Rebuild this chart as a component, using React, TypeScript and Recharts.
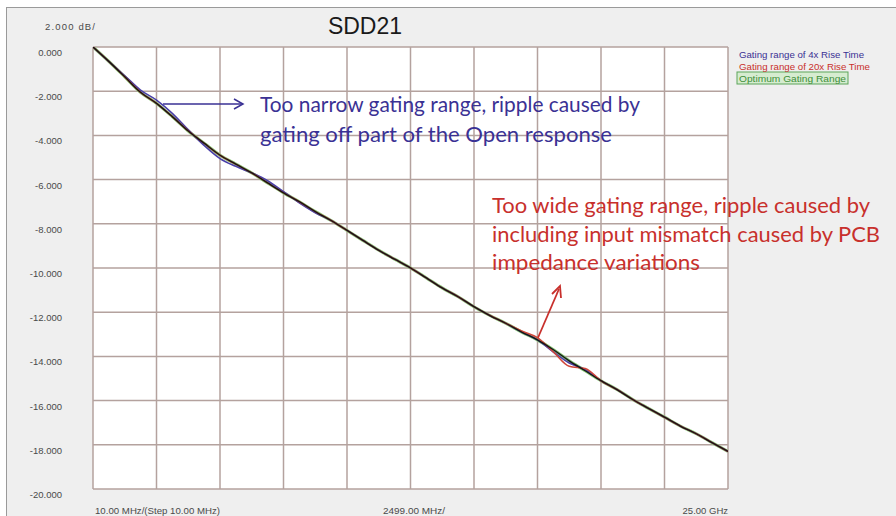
import React from 'react';
import { LineChart, Line, XAxis, YAxis, CartesianGrid, Customized } from 'recharts';

// Frequency (GHz) sample points
const freqGHz = [0.01, 0.63, 1.26, 1.88, 2.51, 3.13, 3.76, 4.38, 5.01, 5.63, 6.26, 6.88, 7.51, 8.13, 8.76, 9.38, 10.01, 10.63, 11.26, 11.88, 12.51, 13.13, 13.75, 14.38, 15.0, 15.63, 16.25, 16.88, 17.5, 18.13, 18.75, 19.38, 20.0, 20.63, 21.25, 21.87, 22.5, 23.12, 23.75, 24.37, 25.0];

// SDD21 (dB)
const optimumRange = [0.0, -0.65, -1.35, -2.05, -2.55, -3.15, -3.8, -4.35, -4.9, -5.3, -5.7, -6.15, -6.6, -7.0, -7.45, -7.85, -8.3, -8.75, -9.2, -9.6, -10.0, -10.45, -10.9, -11.3, -11.75, -12.15, -12.5, -12.9, -13.25, -13.7, -14.2, -14.65, -15.1, -15.5, -15.95, -16.35, -16.75, -17.15, -17.5, -17.9, -18.3];
const range4xRise = [0.0, -0.65, -1.3, -1.95, -2.4, -3.0, -3.75, -4.45, -5.05, -5.4, -5.7, -6.05, -6.55, -7.05, -7.5, -7.85, -8.3, -8.75, -9.2, -9.6, -10.0, -10.45, -10.9, -11.3, -11.75, -12.15, -12.5, -12.9, -13.25, -13.8, -14.3, -14.6, -15.1, -15.5, -15.95, -16.35, -16.75, -17.15, -17.5, -17.9, -18.3];
const range20xRise = [0.0, -0.65, -1.35, -2.05, -2.55, -3.15, -3.8, -4.35, -4.9, -5.3, -5.7, -6.15, -6.6, -7.0, -7.45, -7.85, -8.3, -8.75, -9.2, -9.6, -10.0, -10.45, -10.9, -11.3, -11.75, -12.15, -12.5, -12.85, -13.15, -13.8, -14.45, -14.55, -15.1, -15.5, -15.95, -16.35, -16.75, -17.15, -17.5, -17.9, -18.3];

const yTicks = [0, -2, -4, -6, -8, -10, -12, -14, -16, -18, -20];
const xGridTicks = [0.01, 2.509, 5.008, 7.507, 10.006, 12.505, 15.004, 17.503, 20.002, 22.501, 25.0];
const xLabels = ['10.00 MHz/(Step 10.00 MHz)', '2499.00 MHz/', '25.00 GHz'];
const yScaleLabel = '2.000 dB/';
const title = 'SDD21';
const legendLabels = ['Gating range of 4x Rise Time', 'Gating range of 20x Rise Time', 'Optimum Gating Range'];
const narrowNote = ['Too narrow gating range, ripple caused by', 'gating off part of the Open response'];
const wideNote = ['Too wide gating range, ripple caused by', 'including input mismatch caused by PCB', 'impedance variations'];

const data = freqGHz.map((f, i) => ({ f, opt: optimumRange[i], n4: range4xRise[i], w20: range20xRise[i] }));

const BLUE = '#3a3194';
const RED = '#c8302c';
const GREEN = '#3f8f3a';
const small = 'Liberation Sans, Arial, sans-serif';
const note = 'Lato, "Noto Sans", sans-serif';

const YTick = (props: any) => {
  const { y, payload } = props;
  return (
    <text x={62} y={y + 9} textAnchor="end" fontSize={9.5} fill="#4a4a4a" fontFamily={small}>
      {Number(payload.value).toFixed(3)}
    </text>
  );
};

const Overlay = () => (
  <g>
    <text x={95} y={30} textAnchor="end" fontSize={9.5} fill="#4a4a4a" fontFamily={small} textLength={50} lengthAdjust="spacing">{yScaleLabel}</text>
    <text x={365} y={34} textAnchor="middle" fontSize={23} fill="#1a1a1a" fontFamily={small}>{title}</text>
    <rect x={737} y={72} width={111} height={12} fill="#d6ecd0" stroke="#5da55a" strokeWidth={1} />
    <text x={739} y={58} fontSize={9} fill={BLUE} fontFamily={small} textLength={125} lengthAdjust="spacingAndGlyphs">{legendLabels[0]}</text>
    <text x={739} y={70} fontSize={9} fill={RED} fontFamily={small} textLength={131} lengthAdjust="spacingAndGlyphs">{legendLabels[1]}</text>
    <text x={739} y={81.5} fontSize={9} fill={GREEN} fontFamily={small} textLength={107} lengthAdjust="spacingAndGlyphs">{legendLabels[2]}</text>
    <text x={95} y={514} fontSize={9.5} fill="#4a4a4a" fontFamily={small} textLength={125} lengthAdjust="spacingAndGlyphs">{xLabels[0]}</text>
    <text x={383} y={514} fontSize={9.5} fill="#4a4a4a" fontFamily={small} textLength={62} lengthAdjust="spacingAndGlyphs">{xLabels[1]}</text>
    <text x={728} y={514} textAnchor="end" fontSize={9.5} fill="#4a4a4a" fontFamily={small}>{xLabels[2]}</text>
    {/* narrow-gating annotation */}
    <line x1={163} y1={104} x2={243} y2={104} stroke={BLUE} strokeWidth={1.5} />
    <polyline points="234,99 243,104 234,109" fill="none" stroke={BLUE} strokeWidth={1.5} />
    <text x={260} y={112} fontSize={21} fill={BLUE} fontFamily={note} textLength={380} lengthAdjust="spacingAndGlyphs">{narrowNote[0]}</text>
    <text x={260} y={142} fontSize={21} fill={BLUE} fontFamily={note} textLength={352} lengthAdjust="spacingAndGlyphs">{narrowNote[1]}</text>
    {/* wide-gating annotation */}
    <line x1={537} y1={340} x2={559} y2={289} stroke={RED} strokeWidth={1.8} />
    <polyline points="552,294 560,286 561,298" fill="none" stroke={RED} strokeWidth={1.8} />
    <text x={492} y={213} fontSize={21} fill={RED} fontFamily={note} textLength={378} lengthAdjust="spacingAndGlyphs">{wideNote[0]}</text>
    <text x={492} y={242} fontSize={21} fill={RED} fontFamily={note} textLength={388} lengthAdjust="spacingAndGlyphs">{wideNote[1]}</text>
    <text x={492} y={270} fontSize={21} fill={RED} fontFamily={note} textLength={208} lengthAdjust="spacingAndGlyphs">{wideNote[2]}</text>
  </g>
);

export default function App() {
  return (
    <div style={{ position: 'absolute', left: 0, top: 0, width: 896, height: 516, background: '#ffffff', overflow: 'hidden' }}>
      <div style={{ position: 'absolute', left: 6, top: 7, width: 890, height: 509, background: '#efefef', borderTop: '1px solid #9a9a9a', borderLeft: '1px solid #9a9a9a', boxSizing: 'border-box' }} />
      <div style={{ position: 'absolute', left: 0, top: 0 }}>
        <LineChart width={896} height={516} data={data} margin={{ top: 47, right: 168, bottom: 27, left: 0 }}>
          <CartesianGrid stroke="#b4a29e" strokeWidth={1.5} fill="#ffffff" horizontal vertical />
          <XAxis
            dataKey="f"
            type="number"
            domain={[0.01, 25]}
            ticks={xGridTicks}
            axisLine={false}
            tickLine={false}
            tick={() => <g />}
            height={0}
            allowDataOverflow
          />
          <YAxis
            type="number"
            domain={[-20, 0]}
            ticks={yTicks}
            interval={0}
            axisLine={false}
            tickLine={false}
            tick={<YTick />}
            width={93}
            allowDataOverflow
          />
          <Line type="monotone" dataKey="opt" stroke="#84c472" strokeWidth={3} dot={false} isAnimationActive={false} />
          <Line type="monotone" dataKey="n4" stroke="#4a3fa8" strokeWidth={1.6} dot={false} isAnimationActive={false} />
          <Line type="monotone" dataKey="w20" stroke="#d0473a" strokeWidth={1.6} dot={false} isAnimationActive={false} />
          <Line type="monotone" dataKey="opt" stroke="#161616" strokeWidth={1.4} dot={false} isAnimationActive={false} />
          <Customized component={Overlay} />
        </LineChart>
      </div>
    </div>
  );
}
